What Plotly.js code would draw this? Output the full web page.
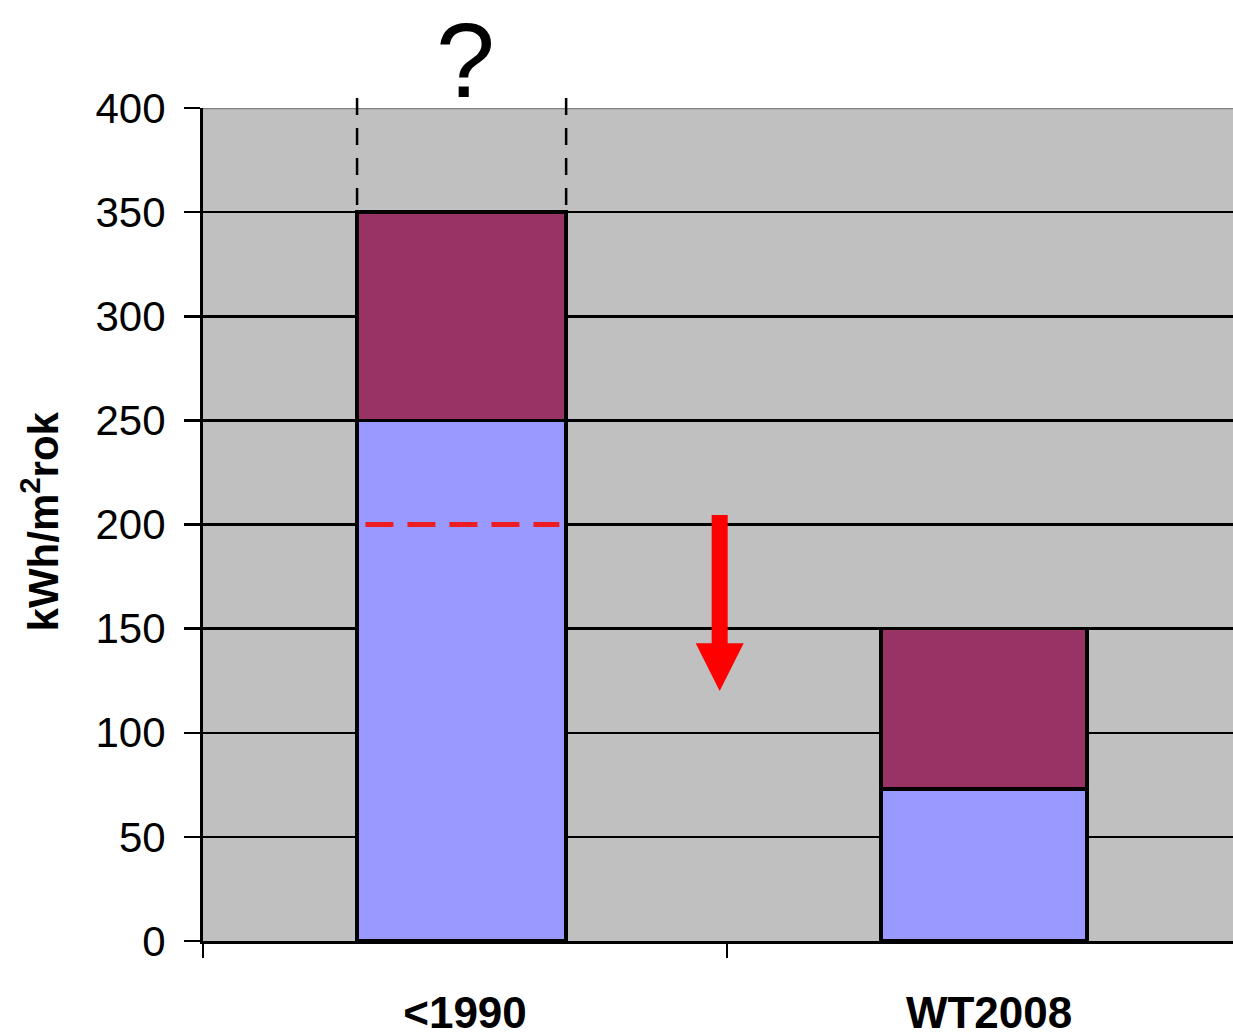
<!DOCTYPE html>
<html>
<head>
<meta charset="utf-8">
<script src="https://cdn.plot.ly/plotly-3.0.1.min.js"></script>
<style>
  html, body { margin: 0; padding: 0; background: #ffffff; }
  #chart { width: 1233px; height: 1032px; }
</style>
</head>
<body>
<div id="chart"></div>
<script>
// Categories and stacked values (kWh/m²rok)
const categories = ['<1990', 'WT2008'];
const lowerPart = [250, 73];   // blue segment
const upperPart = [100, 77];   // maroon segment on top
const yTicks = [0, 50, 100, 150, 200, 250, 300, 350, 400];

// Reduction target marked inside the first bar, and the arrow pointing down
const targetLevel = 200;
const arrowFrom = 204.6;
const arrowHeadBase = 143;
const arrowTip = 120;
const arrowX = 0.486;

const barWidths = [0.399, 0.393];
const barOffset = -0.206;
const barStyle = { line: { color: '#000000', width: 3.5 } };

const traces = [
  {
    type: 'bar', x: categories, y: lowerPart,
    width: barWidths, offset: barOffset,
    marker: Object.assign({ color: '#9999FF' }, barStyle),
    hoverinfo: 'skip'
  },
  {
    type: 'bar', x: categories, y: upperPart,
    width: barWidths, offset: barOffset,
    marker: Object.assign({ color: '#993366' }, barStyle),
    hoverinfo: 'skip'
  }
];

const barLeft = barOffset, barRight = barOffset + barWidths[0];
const shaftHalf = 0.0153, headHalf = 0.0458;
const firstTop = (lowerPart[0] + upperPart[0]) / 400;

const shapes = [
  // upper plot border
  { type: 'line', xref: 'paper', yref: 'y', x0: 0, x1: 1, y0: 400, y1: 400,
    line: { color: '#808080', width: 2.5 }, layer: 'above' },
  // dashed outline of the uncertain top of the first bar (drawn top-down)
  { type: 'line', xref: 'x', yref: 'paper', x0: barLeft, x1: barLeft,
    y0: 1.012, y1: firstTop,
    line: { color: '#000000', width: 2.5, dash: '17px,13px' }, layer: 'above' },
  { type: 'line', xref: 'x', yref: 'paper', x0: barRight, x1: barRight,
    y0: 1.012, y1: firstTop,
    line: { color: '#000000', width: 2.5, dash: '17px,13px' }, layer: 'above' },
  // red dashed target line
  { type: 'line', xref: 'x', yref: 'y', x0: -0.19, x1: 0.18, y0: targetLevel, y1: targetLevel,
    line: { color: '#EE1D23', width: 5, dash: '28px,14px' }, layer: 'above' },
  // red arrow
  { type: 'path', xref: 'x', yref: 'y', layer: 'above',
    path: 'M' + (arrowX - shaftHalf) + ',' + arrowFrom +
          ' L' + (arrowX + shaftHalf) + ',' + arrowFrom +
          ' L' + (arrowX + shaftHalf) + ',' + arrowHeadBase +
          ' L' + (arrowX + headHalf) + ',' + arrowHeadBase +
          ' L' + arrowX + ',' + arrowTip +
          ' L' + (arrowX - headHalf) + ',' + arrowHeadBase +
          ' L' + (arrowX - shaftHalf) + ',' + arrowHeadBase + ' Z',
    fillcolor: '#FF0000', line: { width: 0 } }
];

const layout = {
  width: 1233, height: 1032,
  margin: { l: 203, r: 0, t: 108, b: 91, pad: 0 },
  paper_bgcolor: '#FFFFFF',
  plot_bgcolor: '#C0C0C0',
  barmode: 'stack',
  showlegend: false,
  font: { family: '"Liberation Sans", Arial, sans-serif', color: '#000000' },
  xaxis: {
    type: 'category',
    range: [-0.5, 1.4656],
    showgrid: false, zeroline: false,
    showline: true, linecolor: '#000000', linewidth: 3,
    ticks: 'outside', tickson: 'boundaries', ticklen: 14, tickwidth: 2.5, tickcolor: '#000000',
    tickfont: { size: 44, family: '"Liberation Sans", Arial, sans-serif', weight: 'bold' },
    ticklabelstandoff: 31,
    fixedrange: true
  },
  yaxis: {
    range: [0, 400],
    tickvals: yTicks,
    showgrid: true, gridcolor: '#000000', gridwidth: 2.5,
    zeroline: false,
    showline: true, linecolor: '#000000', linewidth: 3,
    ticks: 'outside', ticklen: 16, tickwidth: 2.5, tickcolor: '#000000',
    tickfont: { size: 42 },
    ticklabelstandoff: 10,
    fixedrange: true
  },
  annotations: [
    // y-axis title
    { xref: 'paper', yref: 'paper', x: -0.158, y: 0.504, xanchor: 'center', yanchor: 'middle',
      textangle: -90, showarrow: false,
      text: '<b>kWh/m<sup>2</sup>rok</b>', font: { size: 42, color: '#000000' } },
    // question mark above the first bar
    { xref: 'x', yref: 'paper', x: 0, y: 1.0, yanchor: 'bottom', yshift: -13,
      text: '?', showarrow: false, font: { size: 106, color: '#000000' } }
  ],
  shapes: shapes
};

Plotly.newPlot('chart', traces, layout, { staticPlot: true, displayModeBar: false });
</script>
</body>
</html>
